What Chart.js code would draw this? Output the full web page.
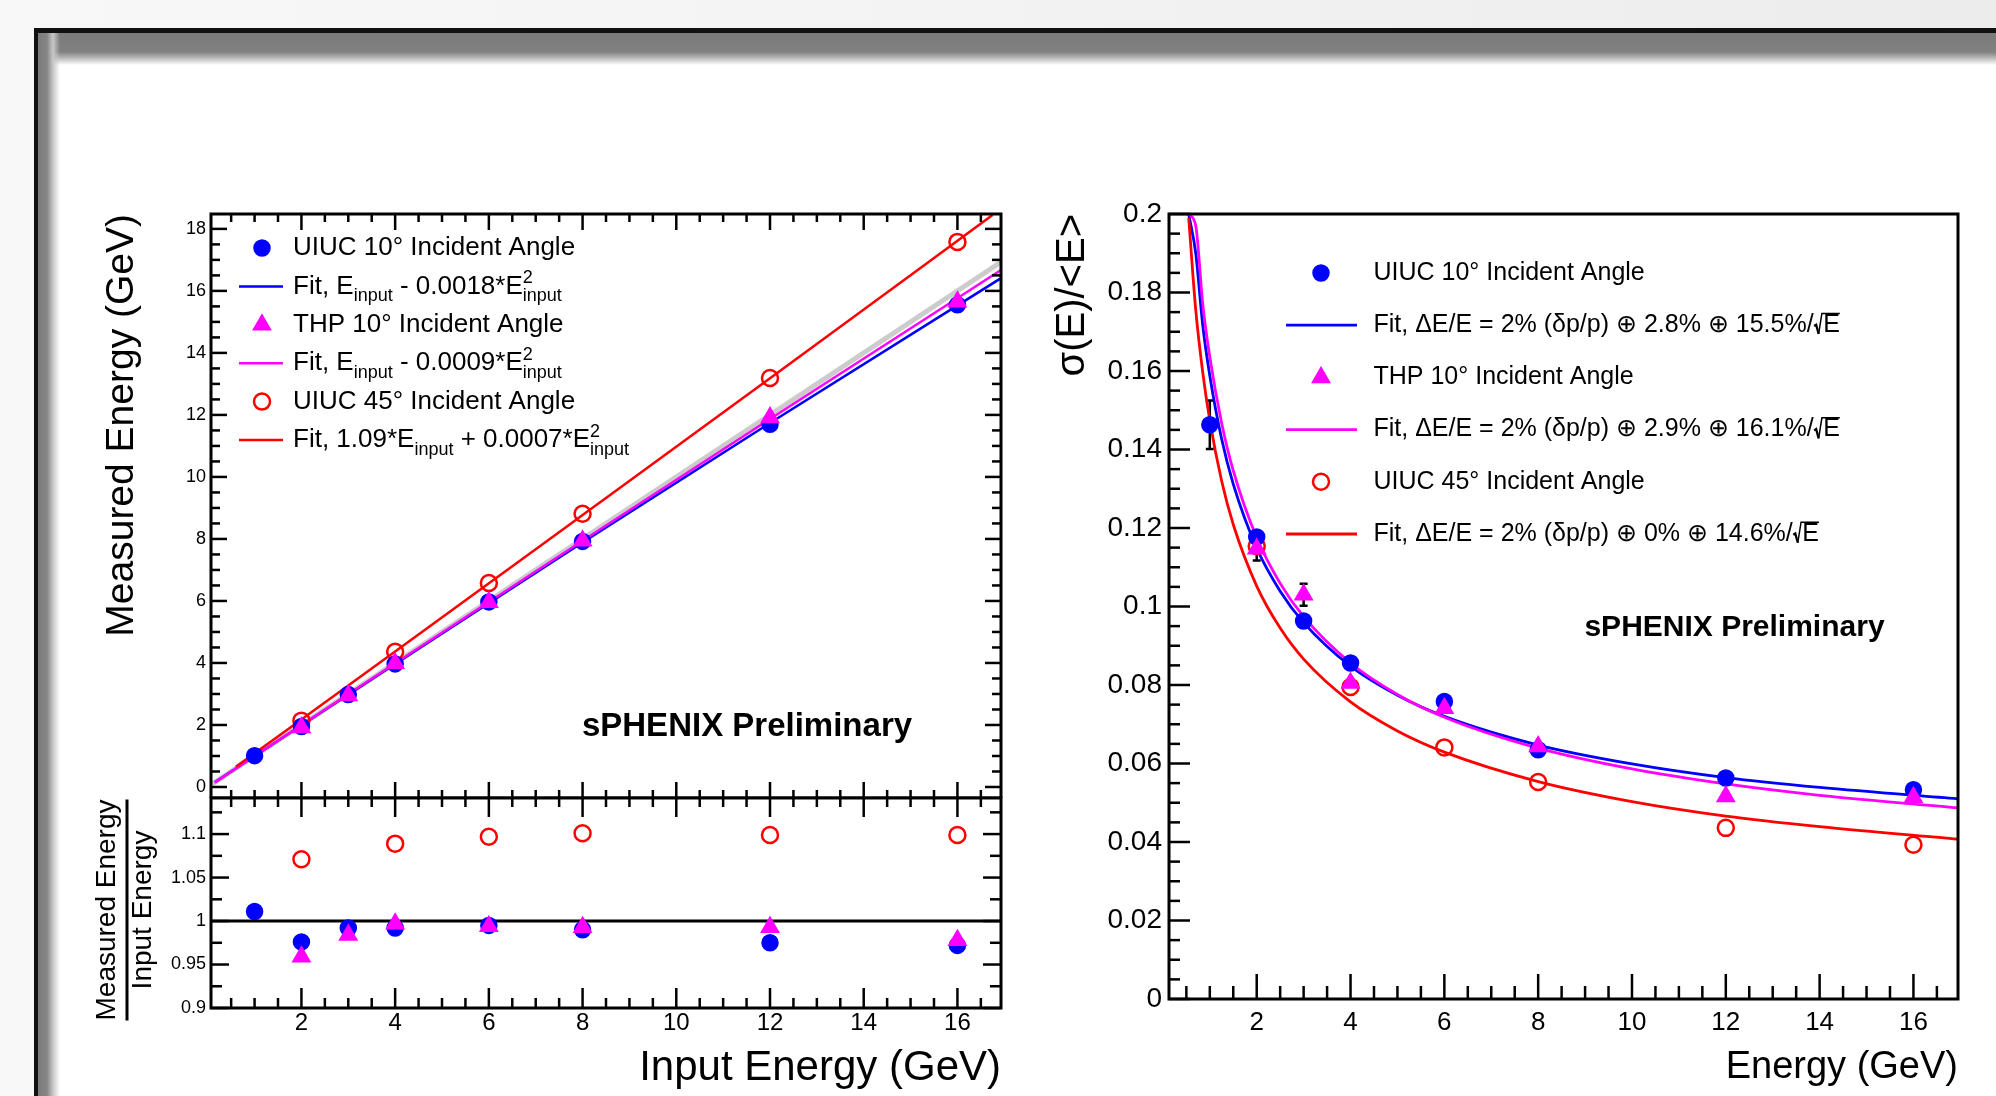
<!DOCTYPE html>
<html>
<head>
<meta charset="utf-8">
<title>sPHENIX EMCal linearity and resolution</title>
<script src="https://cdn.jsdelivr.net/npm/chart.js@4.4.1/dist/chart.umd.min.js"></script>
<style>
  html, body { margin: 0; padding: 0; }
  body {
    width: 1996px; height: 1096px; overflow: hidden; position: relative;
    background: linear-gradient(90deg, #f8f8f8 0%, #f4f4f4 40%, #f0f0f0 70%, #ececec 100%);
  }
  #frame {
    position: absolute; left: 34px; top: 28px; width: 2000px; height: 1100px;
    background: #fff; border-top: 5px solid #111; border-left: 4px solid #111;
  }
  #shadeTop {
    position: absolute; left: 0; top: 0; width: 100%; height: 32px;
    background: linear-gradient(180deg, #7a7a7a 0px, #818181 19px, #b8b8b8 25px, #ffffff 32px);
  }
  #shadeLeft {
    position: absolute; left: 0; top: 0; width: 22px; height: 100%;
    background: linear-gradient(90deg, #7a7a7a 0px, #868686 9px, #c8c8c8 15px, rgba(255,255,255,0) 22px);
  }
  .panel { position: absolute; }
  .panel canvas { display: block; }
</style>
</head>
<body>
<div id="frame"><div id="shadeTop"></div><div id="shadeLeft"></div></div>
<div class="panel" style="left:0px;top:180px;"><canvas id="linearity" width="1040" height="618"></canvas></div>
<div class="panel" style="left:0px;top:780px;"><canvas id="ratio" width="1040" height="316"></canvas></div>
<div class="panel" style="left:1040px;top:180px;"><canvas id="resolution" width="956" height="916"></canvas></div>
<script>
// ---- data ----
// linearity (measured vs input energy)
const uiuc10E = [1, 2, 3, 4, 6, 8, 12, 16];
const uiuc10Measured = [1.01, 1.95, 2.98, 3.97, 5.97, 7.92, 11.70, 15.55];
const thp10E = [2, 3, 4, 6, 8, 12, 16];
const thp10Measured = [1.92, 2.95, 3.99, 5.96, 7.94, 11.92, 15.65];
const uiuc45E = [2, 4, 6, 8, 12, 16];
const uiuc45Measured = [2.14, 4.36, 6.58, 8.81, 13.19, 17.58];

// fit lines on the linearity plot
const linFitE = [0.15, 4, 8, 12, 16.93];
const uiuc10LinFit = [0.15, 3.97, 7.89, 11.74, 16.41];
const thp10LinFit = [0.15, 3.99, 7.94, 11.87, 16.67];
const uiuc45FitE = [0.6, 4, 8, 12, 16.75];
const uiuc45LinFit = [0.65, 4.37, 8.77, 13.18, 18.45];
const diagonalE = [0.1, 16.93];
const diagonalMeasured = [0.1, 16.93];

// measured / input ratio
const uiuc10Ratio = [1.011, 0.976, 0.992, 0.992, 0.995, 0.990, 0.975, 0.972];
const thp10Ratio = [0.959, 0.984, 0.997, 0.994, 0.993, 0.993, 0.978];
const uiuc45Ratio = [1.071, 1.089, 1.097, 1.101, 1.099, 1.099];
const unitySpanE = [0.07, 16.93];
const unityRatio = [1, 1];

// resolution sigma(E)/<E>
const uiuc10Res = [0.1463, 0.1177, 0.0963, 0.0856, 0.0758, 0.0635, 0.0563, 0.0533];
const uiuc10ResErr = [0.0062, 0, 0, 0, 0, 0, 0, 0];
const thp10Res = [0.1147, 0.1030, 0.0805, 0.0741, 0.0643, 0.0516, 0.0514];
const thp10ResErr = [0.003, 0.0028, 0, 0, 0, 0, 0];
const uiuc45Res = [0.1154, 0.0795, 0.0641, 0.0553, 0.0436, 0.0393];

const resFitE = [0.55, 0.7, 0.85, 1, 1.25, 1.5, 2, 2.5, 3, 4, 5, 6, 8, 10, 12, 14, 16.95];
const uiuc10ResFit = [0.2, 0.190, 0.1716, 0.1588, 0.1428, 0.1312, 0.1149, 0.1039, 0.0959, 0.0848, 0.0774, 0.0720, 0.0647, 0.0599, 0.0564, 0.0539, 0.0510];
const thp10ResFit = [0.2, 0.197, 0.1770, 0.1636, 0.1469, 0.1346, 0.1175, 0.1059, 0.0974, 0.0856, 0.0776, 0.0718, 0.0639, 0.0586, 0.0548, 0.0519, 0.0487];
const uiuc45ResFit = [0.199, 0.1756, 0.1596, 0.1474, 0.1321, 0.1209, 0.1052, 0.0945, 0.0866, 0.0757, 0.0683, 0.0629, 0.0554, 0.0503, 0.0466, 0.0439, 0.0407];

const FONT = "'Liberation Sans', Arial, Helvetica, sans-serif";
const BLUE = '#0000ff', MAGENTA = '#ff00ff', RED = '#ff0000';

function pts(xs, ys) { return xs.map((x, i) => ({x: x, y: ys[i]})); }

function markers(label, xs, ys, color, style, hollow, row, errs) {
  return {
    label: label, data: pts(xs, ys), showLine: false,
    pointStyle: style, pointRadius: style === 'triangle' ? 10 : 8,
    pointBorderWidth: hollow ? 2.5 : 1.5,
    pointBackgroundColor: hollow ? 'rgba(0,0,0,0)' : color,
    pointBorderColor: color, legendRow: row, errors: errs
  };
}
function curve(label, xs, ys, color, width, row) {
  return {
    label: label, data: pts(xs, ys), showLine: true, borderColor: color, borderWidth: width,
    pointRadius: 0, cubicInterpolationMode: 'monotone', legendRow: row
  };
}

// axis with fixed box size so the plot frames land where they should
function axis(min, max, step, o) {
  return {
    type: 'linear', min: min, max: max,
    grid: {display: false, drawTicks: false},
    border: {display: false},
    ticks: {
      display: o.labels !== false, stepSize: step, includeBounds: false, autoSkip: false,
      maxRotation: 0, color: '#000', padding: o.pad || 0,
      font: {family: FONT, size: o.size || 18},
      callback: v => String(+v.toFixed(4))
    },
    title: o.title ? {
      display: true, text: o.title, align: 'end', color: '#000',
      font: {family: FONT, size: o.titleSize}, padding: o.titlePad
    } : {display: false},
    afterFit: s => {
      if (s.isHorizontal()) s.height = o.box; else s.width = o.box;
      s.paddingTop = 0; s.paddingBottom = 0; s.paddingLeft = 0; s.paddingRight = 0;
    }
  };
}

// ROOT-style frame with inward ticks
function frameTicks(cfg) {
  return {
    id: 'frameTicks',
    afterDatasetsDraw(chart) {
      const {ctx, chartArea: a, scales} = chart;
      ctx.save();
      ctx.strokeStyle = '#000';
      ctx.lineWidth = cfg.tickWidth;
      cfg.ticks.forEach(t => {
        const s = scales[t.axis];
        const n0 = Math.ceil(s.min / t.minor - 1e-6), n1 = Math.floor(s.max / t.minor + 1e-6);
        for (let n = n0; n <= n1; n++) {
          const v = n * t.minor;
          const r = v / t.major;
          const len = Math.abs(r - Math.round(r)) < 1e-6 ? t.majorLen : t.minorLen;
          const p = s.getPixelForValue(v);
          t.sides.forEach(side => {
            ctx.beginPath();
            if (side === 'left') { ctx.moveTo(a.left, p); ctx.lineTo(a.left + len, p); }
            if (side === 'right') { ctx.moveTo(a.right, p); ctx.lineTo(a.right - len, p); }
            if (side === 'top') { ctx.moveTo(p, a.top); ctx.lineTo(p, a.top + len); }
            if (side === 'bottom') { ctx.moveTo(p, a.bottom); ctx.lineTo(p, a.bottom - len); }
            ctx.stroke();
          });
        }
      });
      ctx.lineWidth = cfg.frameWidth;
      ctx.strokeRect(a.left, a.top, a.right - a.left, a.bottom - a.top);
      ctx.restore();
    }
  };
}

// tiny latex-ish text: _{sub}, ^{sup}, ^{sup}_{sub}, #sqrt{x}
function drawLatex(ctx, text, x, y, size) {
  const small = Math.round(size * 0.68);
  const re = /\^\{([^}]*)\}_\{([^}]*)\}|_\{([^}]*)\}|\^\{([^}]*)\}|#sqrt\{([^}]*)\}|[^_^#]+/g;
  ctx.textAlign = 'left';
  ctx.textBaseline = 'middle';
  let m;
  while ((m = re.exec(text)) !== null) {
    if (m[1] !== undefined) {
      ctx.font = small + 'px ' + FONT;
      ctx.fillText(m[1], x, y - size * 0.32);
      ctx.fillText(m[2], x, y + size * 0.38);
      x += Math.max(ctx.measureText(m[1]).width, ctx.measureText(m[2]).width);
    } else if (m[3] !== undefined) {
      ctx.font = small + 'px ' + FONT;
      ctx.fillText(m[3], x, y + size * 0.38);
      x += ctx.measureText(m[3]).width;
    } else if (m[4] !== undefined) {
      ctx.font = small + 'px ' + FONT;
      ctx.fillText(m[4], x, y - size * 0.32);
      x += ctx.measureText(m[4]).width;
    } else if (m[5] !== undefined) {
      ctx.font = size + 'px ' + FONT;
      const w = ctx.measureText(m[5]).width;
      const yb = y + size * 0.35;
      ctx.save();
      ctx.lineJoin = 'miter';
      ctx.lineWidth = size * 0.09;
      ctx.beginPath();
      ctx.moveTo(x + size * 0.02, yb - size * 0.32);
      ctx.lineTo(x + size * 0.10, yb - size * 0.37);
      ctx.lineTo(x + size * 0.20, yb);
      ctx.stroke();
      ctx.lineWidth = size * 0.06;
      ctx.beginPath();
      ctx.moveTo(x + size * 0.20, yb);
      ctx.lineTo(x + size * 0.33, yb - size * 0.82);
      ctx.lineTo(x + size * 0.38 + w, yb - size * 0.82);
      ctx.stroke();
      ctx.restore();
      ctx.fillText(m[5], x + size * 0.38, y);
      x += size * 0.38 + w;
    } else {
      ctx.font = size + 'px ' + FONT;
      ctx.fillText(m[0], x, y);
      x += ctx.measureText(m[0]).width;
    }
  }
}

function drawMarker(ctx, ds, x, y) {
  ctx.save();
  ctx.fillStyle = ds.pointBackgroundColor;
  ctx.strokeStyle = ds.pointBorderColor;
  ctx.lineWidth = ds.pointBorderWidth;
  const r = ds.pointRadius;
  ctx.beginPath();
  if (ds.pointStyle === 'triangle') {
    for (let k = 0; k < 3; k++) {
      const ang = k * 2 * Math.PI / 3;
      const px = x + Math.sin(ang) * r, py = y - Math.cos(ang) * r;
      if (k) ctx.lineTo(px, py); else ctx.moveTo(px, py);
    }
    ctx.closePath();
  } else {
    ctx.arc(x, y, r, 0, 2 * Math.PI);
  }
  ctx.fill();
  ctx.stroke();
  ctx.restore();
}

function drawLegend(chart, L) {
  const ctx = chart.ctx, a = chart.chartArea;
  ctx.save();
  chart.data.datasets.forEach(ds => {
    if (ds.legendRow === undefined) return;
    const y = a.top + L.y0 + ds.legendRow * L.dy;
    if (ds.showLine) {
      ctx.save();
      ctx.strokeStyle = ds.borderColor;
      ctx.lineWidth = ds.borderWidth;
      ctx.beginPath();
      ctx.moveTo(a.left + L.line0, y);
      ctx.lineTo(a.left + L.line1, y);
      ctx.stroke();
      ctx.restore();
    } else {
      drawMarker(ctx, ds, a.left + L.mark, y);
    }
    ctx.fillStyle = '#000';
    ctx.strokeStyle = '#000';
    drawLatex(ctx, ds.label, a.left + L.text, y, L.size);
  });
  ctx.restore();
}

function stamp(ctx, x, y, size) {
  ctx.save();
  ctx.font = 'bold ' + size + 'px ' + FONT;
  ctx.fillStyle = '#000';
  ctx.textAlign = 'center';
  ctx.textBaseline = 'middle';
  ctx.fillText('sPHENIX Preliminary', x, y);
  ctx.restore();
}

const baseOptions = pad => ({
  responsive: false, animation: false, devicePixelRatio: 1, events: [],
  layout: {padding: pad, autoPadding: false},
  plugins: {legend: {display: false}, tooltip: {enabled: false}}
});

// ---- left top: linearity ----
new Chart(document.getElementById('linearity'), {
  type: 'scatter',
  data: {
    datasets: [
      markers('THP 10° Incident Angle', thp10E, thp10Measured, MAGENTA, 'triangle', false, 2),
      markers('UIUC 10° Incident Angle', uiuc10E, uiuc10Measured, BLUE, 'circle', false, 0),
      markers('UIUC 45° Incident Angle', uiuc45E, uiuc45Measured, RED, 'circle', true, 4),
      curve('Fit, 1.09*E_{input} + 0.0007*E^{2}_{input}', uiuc45FitE, uiuc45LinFit, RED, 2.5, 5),
      curve('Fit, E_{input} - 0.0009*E^{2}_{input}', linFitE, thp10LinFit, MAGENTA, 2.5, 3),
      curve('Fit, E_{input} - 0.0018*E^{2}_{input}', linFitE, uiuc10LinFit, BLUE, 2.5, 1),
      curve('diagonal', diagonalE, diagonalMeasured, '#cccccc', 5)
    ]
  },
  options: Object.assign(baseOptions({left: 0, top: 34, right: 39, bottom: 0}), {
    scales: {
      x: axis(0.07, 16.93, 2, {labels: false, box: 0}),
      y: axis(-0.355, 18.48, 2, {size: 18, pad: 5, box: 211,
        title: 'Measured Energy (GeV)', titleSize: 39, titlePad: {top: 99, bottom: 0}})
    }
  }),
  plugins: [
    frameTicks({tickWidth: 2.5, frameWidth: 3, ticks: [
      {axis: 'y', sides: ['left', 'right'], major: 2, minor: 0.5, majorLen: 16, minorLen: 9},
      {axis: 'x', sides: ['top', 'bottom'], major: 2, minor: 0.5, majorLen: 16, minorLen: 8}
    ]}),
    {
      id: 'linearityText',
      afterDraw(chart) {
        drawLegend(chart, {mark: 51, line0: 28, line1: 72, text: 82, y0: 34, dy: 38.4, size: 26});
        const a = chart.chartArea;
        stamp(chart.ctx, a.left + 536, a.top + 513, 33);
      }
    }
  ]
});

// ---- left bottom: ratio ----
new Chart(document.getElementById('ratio'), {
  type: 'scatter',
  data: {
    datasets: [
      markers('THP 10°', thp10E, thp10Ratio, MAGENTA, 'triangle', false),
      markers('UIUC 10°', uiuc10E, uiuc10Ratio, BLUE, 'circle', false),
      markers('UIUC 45°', uiuc45E, uiuc45Ratio, RED, 'circle', true),
      curve('unity', unitySpanE, unityRatio, '#000000', 3)
    ]
  },
  options: Object.assign(baseOptions({left: 0, top: 18, right: 39, bottom: 0}), {
    scales: {
      x: axis(0.07, 16.93, 2, {size: 24, pad: 1, box: 88,
        title: 'Input Energy (GeV)', titleSize: 42, titlePad: {top: 0, bottom: 2}}),
      y: axis(0.9, 1.1415, 0.05, {size: 18, pad: 5, box: 211})
    }
  }),
  plugins: [
    frameTicks({tickWidth: 2.5, frameWidth: 3, ticks: [
      {axis: 'y', sides: ['left', 'right'], major: 0.05, minor: 0.025, majorLen: 18, minorLen: 11},
      {axis: 'x', sides: ['top'], major: 2, minor: 0.5, majorLen: 19, minorLen: 9},
      {axis: 'x', sides: ['bottom'], major: 2, minor: 0.5, majorLen: 20, minorLen: 10}
    ]}),
    {
      id: 'ratioTitle',
      afterDraw(chart) {
        const {ctx, chartArea: a} = chart;
        const cy = a.top + 112;
        ctx.save();
        ctx.font = '28px ' + FONT;
        ctx.fillStyle = '#000';
        ctx.textAlign = 'center';
        ctx.textBaseline = 'middle';
        const w = ctx.measureText('Measured Energy').width;
        [['Measured Energy', a.left - 104], ['Input Energy', a.left - 68]].forEach(([t, x]) => {
          ctx.save();
          ctx.translate(x, cy);
          ctx.rotate(-Math.PI / 2);
          ctx.fillText(t, 0, 0);
          ctx.restore();
        });
        ctx.fillRect(a.left - 85.5, cy - w / 2, 3, w);
        ctx.restore();
      }
    }
  ]
});

// ---- right: resolution ----
new Chart(document.getElementById('resolution'), {
  type: 'scatter',
  data: {
    datasets: [
      markers('THP 10° Incident Angle', thp10E, thp10Res, MAGENTA, 'triangle', false, 2, thp10ResErr),
      markers('UIUC 10° Incident Angle', uiuc10E, uiuc10Res, BLUE, 'circle', false, 0, uiuc10ResErr),
      markers('UIUC 45° Incident Angle', uiuc45E, uiuc45Res, RED, 'circle', true, 4),
      curve('Fit, ΔE/E = 2% (δp/p) ⊕ 0% ⊕ 14.6%/#sqrt{E}', resFitE, uiuc45ResFit, RED, 2.8, 5),
      curve('Fit, ΔE/E = 2% (δp/p) ⊕ 2.9% ⊕ 16.1%/#sqrt{E}', resFitE, thp10ResFit, MAGENTA, 2.8, 3),
      curve('Fit, ΔE/E = 2% (δp/p) ⊕ 2.8% ⊕ 15.5%/#sqrt{E}', resFitE, uiuc10ResFit, BLUE, 2.8, 1)
    ]
  },
  options: Object.assign(baseOptions({left: 0, top: 34, right: 38, bottom: 0}), {
    scales: {
      x: axis(0.13, 16.95, 2, {size: 26, pad: 8, box: 97,
        title: 'Energy (GeV)', titleSize: 38, titlePad: {top: 0, bottom: 6}}),
      y: axis(0, 0.2, 0.02, {size: 28, pad: 7, box: 129,
        title: 'σ(E)/<E>', titleSize: 40, titlePad: {top: 9, bottom: 0}})
    }
  }),
  plugins: [
    {
      id: 'errorBars',
      beforeDatasetsDraw(chart) {
        const {ctx, scales: {x, y}} = chart;
        ctx.save();
        ctx.strokeStyle = '#000';
        ctx.lineWidth = 2.5;
        chart.data.datasets.forEach(ds => {
          if (!ds.errors) return;
          ds.data.forEach((p, i) => {
            const e = ds.errors[i];
            if (!e) return;
            const px = x.getPixelForValue(p.x);
            const y1 = y.getPixelForValue(p.y - e), y2 = y.getPixelForValue(p.y + e);
            ctx.beginPath();
            ctx.moveTo(px, y1); ctx.lineTo(px, y2);
            ctx.moveTo(px - 4, y1); ctx.lineTo(px + 4, y1);
            ctx.moveTo(px - 4, y2); ctx.lineTo(px + 4, y2);
            ctx.stroke();
          });
        });
        ctx.restore();
      }
    },
    frameTicks({tickWidth: 2.5, frameWidth: 3, ticks: [
      {axis: 'y', sides: ['left'], major: 0.02, minor: 0.005, majorLen: 21, minorLen: 11},
      {axis: 'x', sides: ['bottom'], major: 2, minor: 0.5, majorLen: 25, minorLen: 13}
    ]}),
    {
      id: 'resolutionText',
      afterDraw(chart) {
        drawLegend(chart, {mark: 152, line0: 117, line1: 188, text: 204.5, y0: 59, dy: 52.2, size: 25});
        const a = chart.chartArea;
        stamp(chart.ctx, a.left + 565.5, a.top + 414, 30);
      }
    }
  ]
});
</script>
</body>
</html>
